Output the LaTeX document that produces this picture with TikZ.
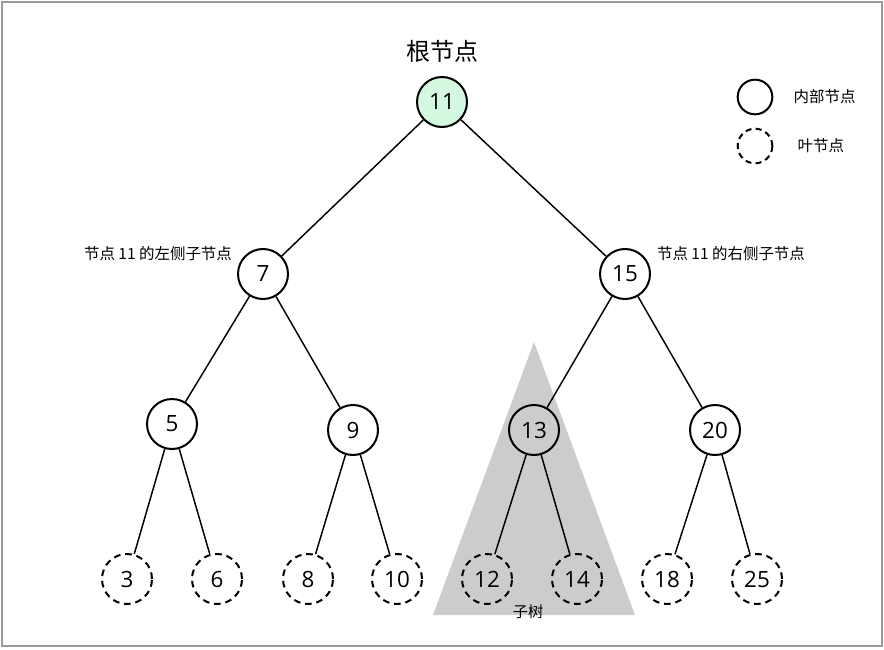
\documentclass[tikz,border=0pt]{standalone}
\usepackage{fontspec}
\setmainfont{Open Sans}
\newfontfamily\cjk{Noto Sans CJK SC}
\definecolor{rootgreen}{HTML}{D5F8E0}
\definecolor{trigray}{HTML}{CCCCCC}
\definecolor{bordergray}{HTML}{9A9A9A}
\begin{document}
\begin{tikzpicture}[x=0.75pt,y=-0.75pt,
  inner/.style={circle,draw,line width=1.5pt,minimum size=37.5pt,inner sep=0pt,font=\fontsize{16.8}{19}\selectfont},
  leaf/.style={inner,dash pattern=on 5pt off 3.6pt},
  edge/.style={line width=1.1pt},
  lbl/.style={font=\cjk\fontsize{11.6}{13}\selectfont},
  legendc/.style={circle,draw,line width=1.5pt,minimum size=26pt,inner sep=0pt}]
\useasboundingbox (0,0) rectangle (884,649);
\draw[bordergray,line width=1.1pt] (2,2) rectangle (882,646);
\fill[trigray] (534,342) -- (433,615) -- (635,615) -- cycle;
% nodes
\node[inner,fill=rootgreen] (n11) at (442,102) {11};
\node[inner] (n7) at (263,274) {7};
\node[inner] (n15) at (625,274) {15};
\node[inner] (n5) at (172,424) {5};
\node[inner] (n9) at (353,430) {9};
\node[inner] (n13) at (534,430) {13};
\node[inner] (n20) at (715,430) {20};
\node[leaf] (n3) at (127,579) {3};
\node[leaf] (n6) at (217,579) {6};
\node[leaf] (n8) at (308,579) {8};
\node[leaf] (n10) at (397,579) {10};
\node[leaf] (n12) at (487,579) {12};
\node[leaf] (n14) at (577,579) {14};
\node[leaf] (n18) at (667,579) {18};
\node[leaf] (n25) at (757,579) {25};
% edges
\draw[edge] (n11) -- (n7);
\draw[edge] (n11) -- (n15);
\draw[edge] (n7) -- (n5);
\draw[edge] (n7) -- (n9);
\draw[edge] (n15) -- (n13);
\draw[edge] (n15) -- (n20);
\draw[edge] (n5) -- (n3);
\draw[edge] (n5) -- (n6);
\draw[edge] (n9) -- (n8);
\draw[edge] (n9) -- (n10);
\draw[edge] (n13) -- (n12);
\draw[edge] (n13) -- (n14);
\draw[edge] (n20) -- (n18);
\draw[edge] (n20) -- (n25);
% labels
\node[font=\cjk\fontsize{18}{20}\selectfont] (root) at (442,51) {根节点};
\node[lbl] (leftlbl) at (158,254) {节点 11 的左侧子节点};
\node[lbl] (rightlbl) at (731,254) {节点 11 的右侧子节点};
\node[font=\cjk\fontsize{11.4}{13}\selectfont] (sub) at (528,612) {子树};
% legend
\node[legendc] (lg1) at (755,97) {};
\node[lbl,anchor=west] (lg1t) at (789,97) {内部节点};
\node[legendc,dash pattern=on 4.5pt off 3.2pt] (lg2) at (755,146) {};
\node[lbl,anchor=west] (lg2t) at (793,146) {叶节点};
\end{tikzpicture}
\end{document}
